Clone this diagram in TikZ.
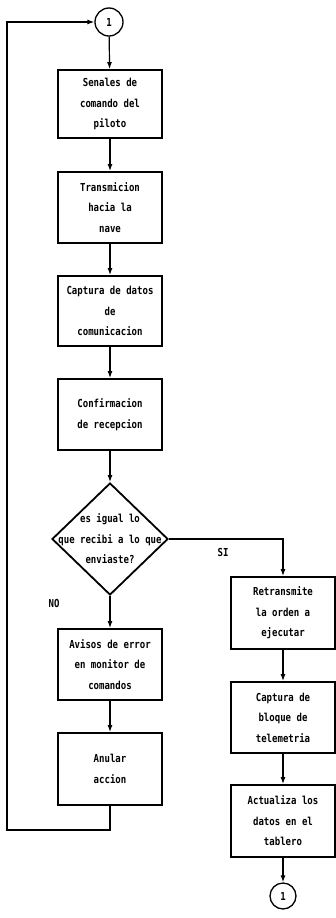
\documentclass[tikz,border=0pt]{standalone}
\usepackage{fontspec}
\newfontfamily\flowfont{DejaVu Sans Mono}[FakeStretch=0.82]
\usetikzlibrary{shapes.geometric,arrows.meta}
\tikzset{
  every node/.style={font=\flowfont\bfseries\fontsize{11}{20.5}\selectfont},
  procbox/.style={draw, line width=1.8pt, minimum width=104pt, align=center, inner sep=0pt},
  conn/.style={line width=1.2pt, -{Latex[length=7pt,width=5pt]}},
  connector/.style={draw, circle, line width=1.3pt, minimum size=28pt, inner sep=0pt},
  decision/.style={draw, diamond, line width=1.8pt, minimum width=116pt, minimum height=112pt, inner sep=0pt},
  lbl/.style={inner sep=0pt}
}
\begin{document}
\begin{tikzpicture}[x=1pt,y=-1pt]
\useasboundingbox (0,0) rectangle (336,918);
% left column
\node[connector] (c1) at (109,22) {1};
\node[procbox, minimum height=68pt] (b1) at (110,104) {Senales de\\comando del\\piloto};
\node[procbox, minimum height=71pt] (b2) at (110,207.5) {Transmicion\\hacia la\\nave};
\node[procbox, minimum height=70pt] (b3) at (110,311) {Captura de datos\\de\\comunicacion};
\node[procbox, minimum height=71pt] (b4) at (110,414.5) {Confirmacion\\de recepcion};
\node[decision] (d) at (110,539) {};
\node[lbl, align=center] (dt) at (110,539) {es igual lo\\que recibi a lo que\\enviaste?};
\node[procbox, minimum height=71pt] (b5) at (110,664.5) {Avisos de error\\en monitor de\\comandos};
\node[procbox, minimum height=72pt] (b6) at (110,769) {Anular\\accion};
% right column
\node[procbox, minimum height=72pt] (r1) at (283,613) {Retransmite\\la orden a\\ejecutar};
\node[procbox, minimum height=71pt] (r2) at (283,717.5) {Captura de\\bloque de\\telemetria};
\node[procbox, minimum height=72pt] (r3) at (283,821) {Actualiza los\\datos en el\\tablero};
\node[connector, minimum size=26pt] (c2) at (283,896) {1};
% labels
\node[lbl] (si) at (223,552) {SI};
\node[lbl] (no) at (54,603) {NO};
% connectors
\draw[conn] (c1) -- (b1);
\draw[conn] (b1) -- (b2);
\draw[conn] (b2) -- (b3);
\draw[conn] (b3) -- (b4);
\draw[conn] (b4) -- (d.north);
\draw[conn] (d.south) -- (b5);
\draw[conn] (b5) -- (b6);
\draw[conn] (d.east) -| (r1.north);
\draw[conn] (r1) -- (r2);
\draw[conn] (r2) -- (r3);
\draw[conn] (r3) -- (c2);
\coordinate (lb) at (7,830);
\draw[conn] (b6.south) |- (lb) |- (c1.west);
\end{tikzpicture}
\end{document}
